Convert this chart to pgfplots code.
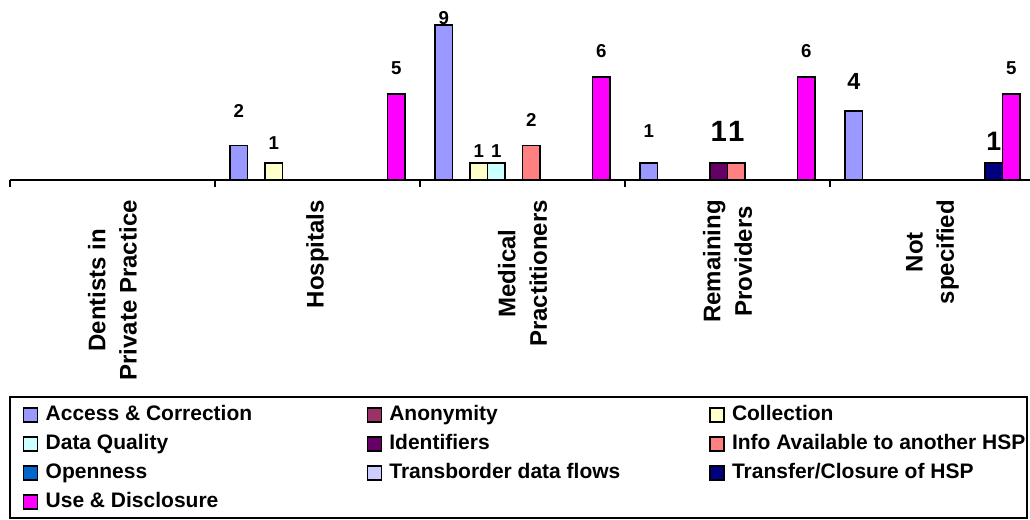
\documentclass[border=0pt]{standalone}
\usepackage{pgfplots}
\pgfplotsset{compat=1.18}
\usepackage{fontspec}
\setmainfont{Liberation Sans}

\definecolor{cAccess}{HTML}{9999FF}
\definecolor{cAnon}{HTML}{993366}
\definecolor{cColl}{HTML}{FFFFCC}
\definecolor{cDQ}{HTML}{CCFFFF}
\definecolor{cIdent}{HTML}{660066}
\definecolor{cInfo}{HTML}{FF8080}
\definecolor{cOpen}{HTML}{0066CC}
\definecolor{cTrans}{HTML}{CCCCFF}
\definecolor{cTransfer}{HTML}{000080}
\definecolor{cUse}{HTML}{FF00FF}

\begin{document}
\begin{tikzpicture}
\useasboundingbox (0,0) rectangle (772.5pt,390pt);
\begin{axis}[
  at={(7.5pt,255pt)}, anchor=south west,
  scale only axis,
  width=768.75pt, height=129.15pt,
  xmin=-0.5, xmax=4.5, ymin=0, ymax=10,
  enlargelimits=false,
  clip=false,
  axis x line*=bottom,
  axis y line=none,
  x axis line style={-, line width=1.2pt},
  ybar, bar width=13.125pt,
  xtick={0,1,2,3,4},
  xticklabels={Dentists in\\Private Practice, Hospitals, Medical\\Practitioners, Remaining\\Providers, Not\\specified},
  major tick length=0pt,
  minor xtick={-0.5,0.5,1.5,2.5,3.5,4.5},
  minor tick length=5pt,
  tick align=outside,
  every tick/.style={black, line width=1.2pt},
  xticklabel style={rotate=90, anchor=east, align=center, inner sep=0pt,
     font=\fontsize{18}{23.5}\selectfont\bfseries},
  xticklabel shift=15pt,
  ytick=\empty,
  every axis plot/.append style={draw=black, line width=1.3pt},
  nodes near coords={\pgfmathprintnumber[assume math mode=true]{\pgfplotspointmeta}},
  point meta=explicit,
  visualization depends on={value \thisrow{off}\as\labeloff},
  visualization depends on={value \thisrow{fs}\as\labelfs},
  every node near coord/.append style={anchor=base, inner sep=0pt, yshift=\labeloff pt,
     font=\fontsize{\labelfs}{\labelfs}\selectfont\bfseries, text=black},
  legend columns=3,
  legend image code/.code={\draw[#1, line width=1pt] (0pt,-1.5pt) rectangle (10.5pt,9pt);},
  legend style={at={(axis description cs:0,0)}, anchor=north west,
     xshift=9.75pt, yshift=-168pt, draw=none, fill=none,
     inner sep=0pt, outer sep=0pt, row sep=6.25pt,
     cells={anchor=base west},
     nodes={inner xsep=5.5pt, inner ysep=0pt, text height=12pt, text depth=3.5pt,
        font=\fontsize{15.75}{18}\selectfont\bfseries}},
]
% Access & Correction (slot 0)
\addplot[fill=cAccess, bar shift=-59.0625pt] table[x=x, y=y, meta=y] {
x y off fs
1 2 21 14
2 9 0.5 14
3 1 18.75 14
4 4 16.5 17.5
};
\addlegendentry{\makebox[235.25pt][l]{Access \& Correction}}
% Anonymity (slot 1, no data)
\addlegendimage{fill=cAnon, draw=black}
\addlegendentry{\makebox[234.5pt][l]{Anonymity}}
% Collection (slot 2)
\addplot[fill=cColl, bar shift=-32.8125pt] table[x=x, y=y, meta=y] {
x y off fs
1 1 9.75 14
2 1 3.75 14
};
\addlegendentry{Collection}
% Data Quality (slot 3)
\addplot[fill=cDQ, bar shift=-19.6875pt] table[x=x, y=y, meta=y] {
x y off fs
2 1 3.75 14
};
\addlegendentry{Data Quality}
% Identifiers (slot 4)
\addplot[fill=cIdent, bar shift=-6.5625pt] table[x=x, y=y, meta=y] {
x y off fs
3 1 15.75 22
};
\addlegendentry{Identifiers}
% Info Available (slot 5)
\addplot[fill=cInfo, bar shift=6.5625pt] table[x=x, y=y, meta=y] {
x y off fs
2 2 14.25 14
3 1 15.75 22
};
\addlegendentry{Info Available to another HSP}
% Openness (slot 6, no data)
\addlegendimage{fill=cOpen, draw=black}
\addlegendentry{Openness}
% Transborder (slot 7, no data)
\addlegendimage{fill=cTrans, draw=black}
\addlegendentry{Transborder data flows}
% Transfer/Closure (slot 8)
\addplot[fill=cTransfer, bar shift=45.9375pt] table[x=x, y=y, meta=y] {
x y off fs
4 1 9 20
};
\addlegendentry{Transfer/Closure of HSP}
% Use & Disclosure (slot 9)
\addplot[fill=cUse, bar shift=59.0625pt] table[x=x, y=y, meta=y] {
x y off fs
1 5 14.25 14
2 6 14.25 14
3 6 14.25 14
4 5 14.25 14
};
\addlegendentry{Use \& Disclosure}
\end{axis}
\draw[line width=1.1pt] (7.5pt,1.5pt) rectangle (770.25pt,92.25pt);
\end{tikzpicture}
\end{document}
